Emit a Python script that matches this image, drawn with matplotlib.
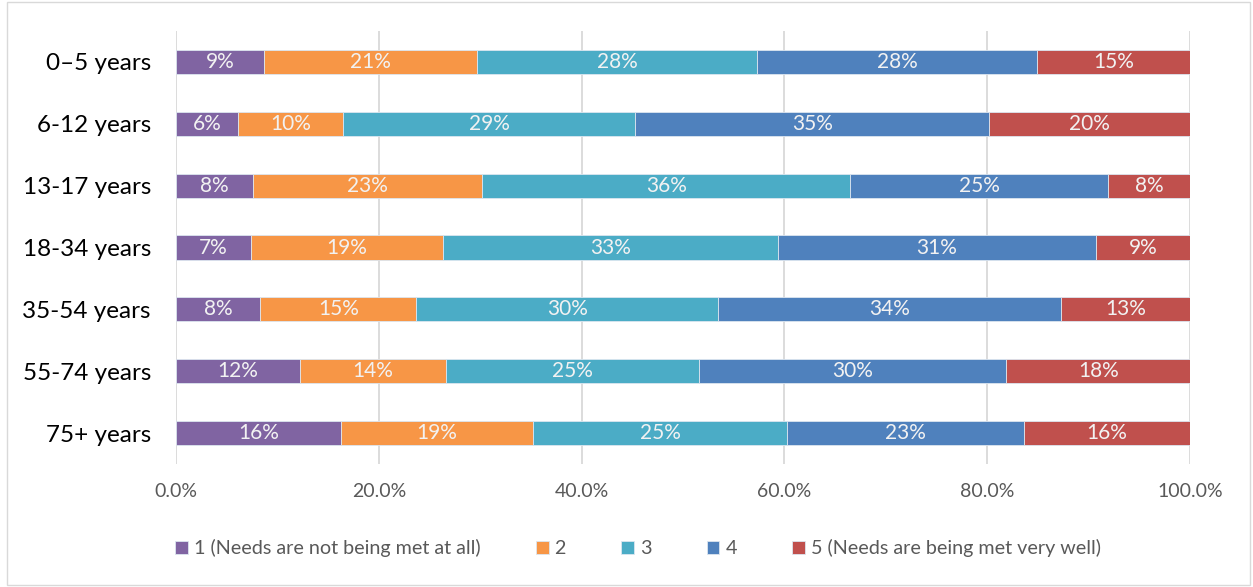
import numpy as np
import matplotlib
matplotlib.use("Agg")
import matplotlib.pyplot as plt
from matplotlib.patches import Rectangle

plt.rcParams['font.family'] = ['Lato', 'DejaVu Sans']

# age groups, top to bottom
groups = ["0–5 years", "6-12 years", "13-17 years", "18-34 years",
          "35-54 years", "55-74 years", "75+ years"]

# share of responses per rating (percent)
r1 = [8.7, 6.1, 7.6, 7.4, 8.3, 12.2, 16.3]
r2 = [21.0, 10.4, 22.6, 18.9, 15.4, 14.4, 18.9]
r3 = [27.6, 28.8, 36.3, 33.1, 29.8, 25.0, 25.1]
r4 = [27.6, 34.9, 25.4, 31.3, 33.8, 30.3, 23.3]
r5 = [15.1, 19.8, 8.1, 9.3, 12.7, 18.1, 16.4]

series = [r1, r2, r3, r4, r5]
names = ["1 (Needs are not being met at all)", "2", "3", "4",
         "5 (Needs are being met very well)"]
colors = ["#8064A2", "#F79646", "#4BACC6", "#4F81BD", "#C0504D"]

fig = plt.figure(figsize=(12.53, 5.87), dpi=100)
ax = fig.add_axes([176/1253, 1 - 464/587, (1190 - 176)/1253, 433/587])

y = np.arange(len(groups))
left = np.zeros(len(groups))
for vals, name, col in zip(series, names, colors):
    vals = np.array(vals)
    ax.barh(y, vals, left=left, height=0.39, color=col, label=name,
            edgecolor="#dce6f0", linewidth=0.6, zorder=3)
    for yy, l, v in zip(y, left, vals):
        ax.text(l + v/2, yy, f"{v:.0f}%", ha="center", va="center",
                color="#f2f2f2", fontsize=15, zorder=4)
    left = left + vals

ax.set_xlim(0, 100)
ax.set_ylim(len(groups) - 0.5, -0.5)
ax.set_yticks(y)
ax.set_yticklabels(groups, fontsize=17.5, color="black")
ax.set_xticks(np.arange(0, 101, 20))
ax.set_xticklabels([f"{t:.1f}%" for t in np.arange(0, 101, 20)],
                   fontsize=14, color="#595959")
ax.tick_params(axis="y", length=0, pad=18)
ax.tick_params(axis="x", length=0, pad=14)
ax.grid(axis="x", color="#d9d9d9", linewidth=1.3, zorder=0)
ax.set_axisbelow(True)
for s in ax.spines.values():
    s.set_visible(False)

leg = fig.legend(loc="center", bbox_to_anchor=(638/1253, 1 - 548/587), ncol=5,
                 frameon=False, fontsize=14.2, handlelength=0.65,
                 handleheight=0.65, handletextpad=0.3, columnspacing=2.8)
for t in leg.get_texts():
    t.set_color("#595959")

# light frame around the chart
fig.patches.append(Rectangle((7/1253, 2/587), 1243/1253, 583/587,
                             transform=fig.transFigure, fill=False,
                             edgecolor="#d9d9d9", linewidth=1))

fig.savefig("out.png", dpi=100)
